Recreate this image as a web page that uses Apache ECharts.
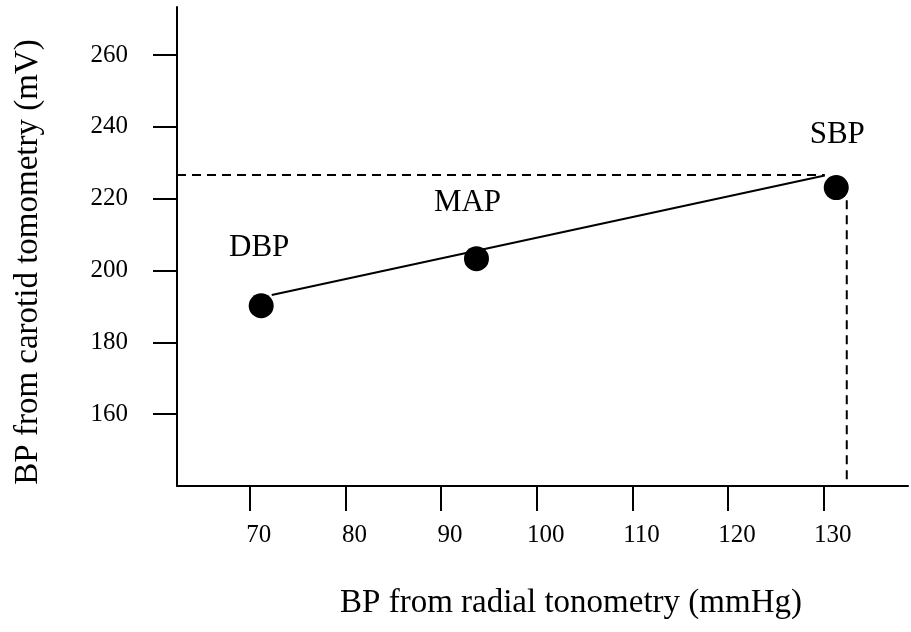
<!DOCTYPE html>
<html><head><meta charset="utf-8">
<script src="https://cdn.jsdelivr.net/npm/echarts@6/dist/echarts.min.js"></script>
<style>html,body{margin:0;padding:0;background:#fff}#c{width:911px;height:632px}</style>
</head><body><div id="c"></div>
<script>
const pointNames = ['DBP', 'MAP', 'SBP'];
const radialBP = [71.2, 93.7, 131.3];
const carotidBP = [190.2, 203.3, 223.1];
const fitLineX = [72.3, 130.1];
const fitLineY = [193.2, 226.5];
const refY = 226.6;       // horizontal dashed reference
const refX = 132.4;       // vertical dashed reference
const refXTop = 219.6;
const xTicks = [70, 80, 90, 100, 110, 120, 130];
const yTicks = [160, 180, 200, 220, 240, 260];
const xTitle = 'BP from radial tonometry (mmHg)';
const yTitle = 'BP from carotid tomometry (mV)';

const X_MIN = 62.4, X_MAX = 138.8, Y_MIN = 140, Y_MAX = 273.4;
const labelOffsets = [[-2, -58], [-9, -56], [1, -53]];
const FONT = '"Liberation Serif", "Times New Roman", serif';

const chart = echarts.init(document.getElementById('c'), null, {renderer: 'canvas'});
const option = {
  backgroundColor: '#fff',
  animation: false,
  grid: {left: 177, right: 3, top: 7, bottom: 146, containLabel: false, outerBoundsMode: 'none'},
  xAxis: {
    type: 'value', min: X_MIN, max: X_MAX,
    splitLine: {show: false},
    axisLine: {show: true, lineStyle: {color: '#000', width: 2}},
    axisTick: {show: true, customValues: xTicks, length: 25, lineStyle: {color: '#000', width: 2}},
    axisLabel: {customValues: xTicks, color: '#000', fontFamily: FONT, fontSize: 25, margin: 37, padding: [0, 0, 0, 18]}
  },
  yAxis: {
    type: 'value', min: Y_MIN, max: Y_MAX,
    splitLine: {show: false},
    axisLine: {show: true, lineStyle: {color: '#000', width: 2}},
    axisTick: {show: true, customValues: yTicks, length: 24, lineStyle: {color: '#000', width: 2}},
    axisLabel: {customValues: yTicks, color: '#000', fontFamily: FONT, fontSize: 25, margin: 49}
  },
  graphic: [
    {type: 'text', x: 571, y: 603, style: {text: xTitle, font: '33px ' + FONT, fill: '#000', align: 'center', verticalAlign: 'middle'}},
    {type: 'text', x: 28, y: 262, rotation: Math.PI / 2, style: {text: yTitle, font: '33px ' + FONT, fill: '#000', align: 'center', verticalAlign: 'middle'}}
  ],
  series: [
    {
      type: 'line', silent: true, symbol: 'none',
      data: [[X_MIN, refY], [fitLineX[1], refY]],
      lineStyle: {color: '#000', width: 2, type: [9, 6]}
    },
    {
      type: 'line', silent: true, symbol: 'none',
      data: [[refX, refXTop], [refX, Y_MIN]],
      lineStyle: {color: '#000', width: 2, type: [9, 6]}
    },
    {
      type: 'line', silent: true, symbol: 'none',
      data: fitLineX.map((x, i) => [x, fitLineY[i]]),
      lineStyle: {color: '#000', width: 2}
    },
    {
      type: 'scatter', symbol: 'circle', symbolSize: 25, silent: true,
      itemStyle: {color: '#000', opacity: 1},
      data: radialBP.map((x, i) => ({
        value: [x, carotidBP[i]],
        label: {show: true, position: 'inside', offset: labelOffsets[i], formatter: pointNames[i],
                color: '#000', opacity: 1, fontFamily: FONT, fontSize: 31}
      }))
    }
  ]
};
chart.setOption(option);
</script>
</body></html>
